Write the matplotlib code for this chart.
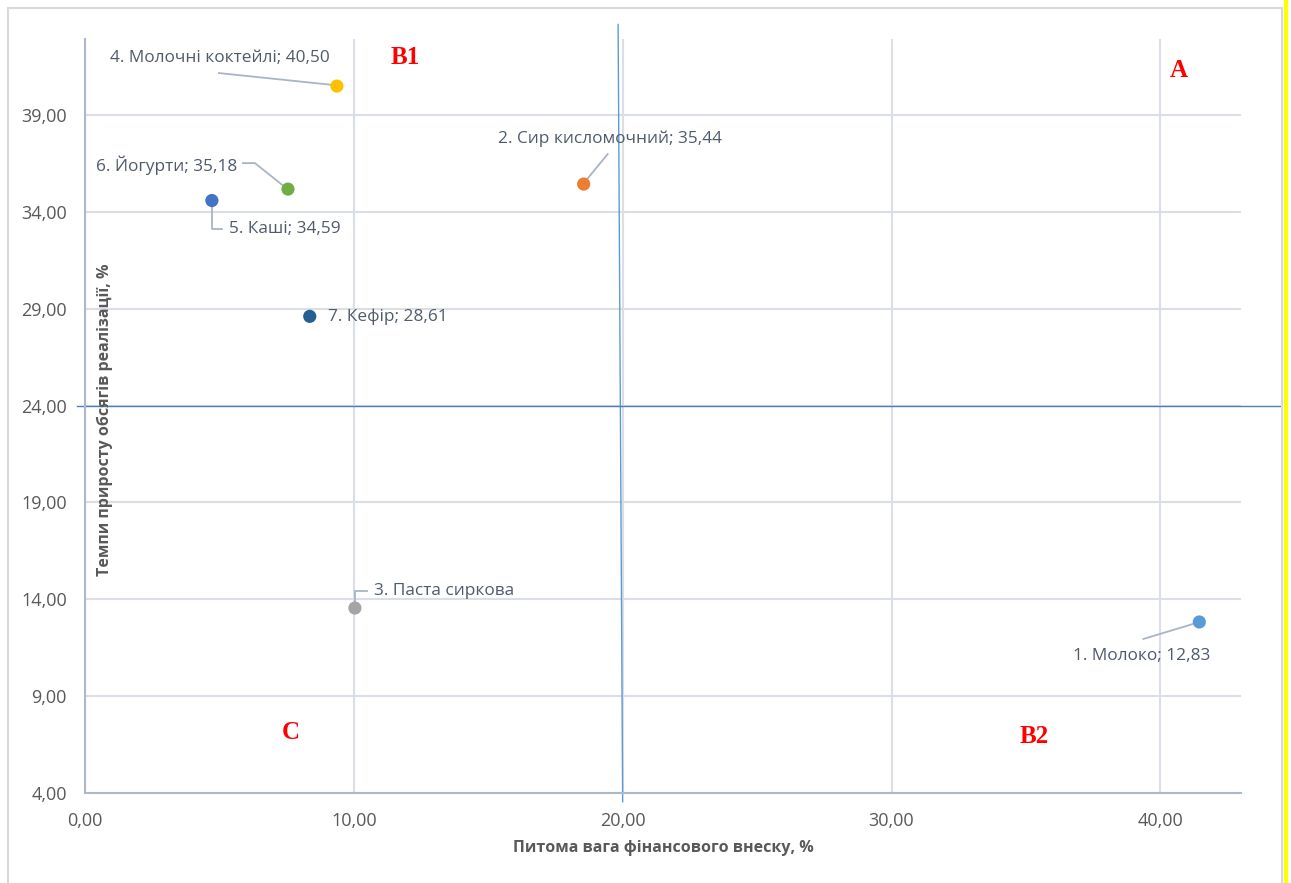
import matplotlib
matplotlib.use("Agg")
import matplotlib.pyplot as plt
from matplotlib.lines import Line2D
from matplotlib.patches import Rectangle

plt.rcParams['font.family'] = ['Open Sans', 'DejaVu Sans']

# ---- data ----
names = ["1. Молоко", "2. Сир кисломочний", "3. Паста сиркова", "4. Молочні коктейлі",
         "5. Каші", "6. Йогурти", "7. Кефір"]
x_share = [41.45, 18.55, 10.04, 9.37, 4.72, 7.55, 8.36]
y_growth = [12.83, 35.44, 13.55, 40.50, 34.59, 35.18, 28.61]
show_value = [True, True, False, True, True, True, True]
colors = ["#5B9BD5", "#ED7D31", "#A5A5A5", "#FFC000", "#4472C4", "#70AD47", "#255E91"]

x_ticks = [0, 10, 20, 30, 40]
y_ticks = [4, 9, 14, 19, 24, 29, 34, 39]
x_threshold = 20
y_threshold = 24
quadrants = ["B1", "A", "C", "B2"]
quad_pos = [(11.9, 42.0), (40.67, 41.3), (7.67, 7.1), (35.3, 6.9)]

xlabel = "Питома вага фінансового внеску, %"
ylabel = "Темпи приросту обсягів реалізації, %"

W, H = 1291, 883
fig = plt.figure(figsize=(W / 100, H / 100), dpi=100)
L, R, B, T = 85, 1241, 793, 39
ax = fig.add_axes([L / W, (H - B) / H, (R - L) / W, (B - T) / H])
xmin, xmax = 0, 43
ymin, ymax = 4, 42.93
ax.set_xlim(xmin, xmax)
ax.set_ylim(ymin, ymax)
pxx = (R - L) / (xmax - xmin)
pxy = (B - T) / (ymax - ymin)

def fmt(v):
    return f"{v:.2f}".replace(".", ",")

ax.set_xticks(x_ticks)
ax.set_yticks(y_ticks)
ax.set_xticklabels([fmt(v) for v in x_ticks])
ax.set_yticklabels([fmt(v) for v in y_ticks])
ax.tick_params(length=0, labelsize=13, labelcolor="#595959")
ax.tick_params(axis='x', pad=13.5)
ax.tick_params(axis='y', pad=13)
ax.grid(True, color="#D9DEE7", lw=1.5)
ax.set_axisbelow(True)
for s in ["top", "right"]:
    ax.spines[s].set_visible(False)
for s in ["left", "bottom"]:
    ax.spines[s].set_color("#ADB9CA")
    ax.spines[s].set_linewidth(1.5)

# threshold lines (extend beyond axes as in the original)
ax.plot([x_threshold - 0.17, x_threshold], [ymax + 0.75, ymin - 0.45],
        color="#5B9BD5", lw=1, clip_on=False, zorder=2)
ax.plot([xmin - 0.3, xmax + 1.5], [y_threshold, y_threshold],
        color="#4F7DB8", lw=1, clip_on=False, zorder=2)

ax.scatter(x_share, y_growth, s=90, c=colors, zorder=4, edgecolors="none")

lab_color = "#4F5B6D"
lead_color = "#A9B4C5"
FS = 12.4

# label placement: (text offset px, ha, leader path offsets px) -- y offsets positive upward
label_style = {
    0: ((-126, -34), "left", [(-3, -1), (-56, -17)]),
    1: ((-86, 45), "left", [(1, 2), (24, 30)]),
    2: ((19, 17), "left", [(0, 4), (0, 17), (12, 17)]),
    3: ((-227, 28), "left", [(-3, 1), (-118, 13)]),
    4: ((17, -28), "left", [(0, -4), (0, -28), (10, -28)]),
    5: ((-192, 24), "left", [(-3, 2), (-33, 26), (-45, 26)]),
    6: ((18, 0), "left", []),
}
for i in range(len(names)):
    (dx, dy), ha, path = label_style[i]
    txt = names[i] + ("; " + fmt(y_growth[i]) if show_value[i] else "")
    xi, yi = x_share[i], y_growth[i]
    ax.text(xi + dx / pxx, yi + dy / pxy, txt, ha=ha, va="center",
            fontsize=FS, color=lab_color, zorder=5)
    if path:
        px = [xi + p[0] / pxx for p in path]
        py = [yi + p[1] / pxy for p in path]
        ax.plot(px, py, color=lead_color, lw=1.3, zorder=3, clip_on=False)

for q, (qx, qy) in zip(quadrants, quad_pos):
    ax.text(qx, qy, q, ha="center", va="center", fontsize=18, fontweight="bold",
            color="#FF0000", family="Liberation Serif", zorder=5)

fig.text((L + R) / 2 / W, 1 - 848 / H, xlabel, ha="center", va="center",
         fontsize=11.5, fontweight="bold", color="#595959")
fig.text(105 / W, 1 - 420 / H, ylabel, ha="center", va="center", rotation=90,
         fontsize=11.5, fontweight="bold", color="#595959")

# outer chart frame and yellow edge
fig.add_artist(Rectangle((8 / W, -0.01), (1282 - 8) / W, 1 - 8 / H + 0.01,
                         transform=fig.transFigure, fill=False, ec="#D9D9D9", lw=1.5))
fig.add_artist(Line2D([1285.5 / W, 1285.5 / W], [0, 1], transform=fig.transFigure,
                      color="#FFFF00", lw=3))

fig.savefig("out.png", dpi=100)
